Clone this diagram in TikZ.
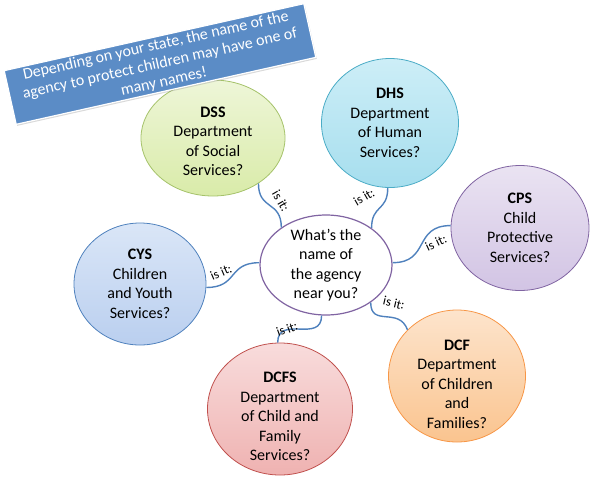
\documentclass[tikz,border=0pt]{standalone}
\usepackage{fontspec}
\setmainfont{Carlito}
\usepackage{xcolor}
\usepackage{tikz}
\usetikzlibrary{shapes,positioning,calc,shadows}

\definecolor{linkblue}{HTML}{4F81BD}
\definecolor{bannerblue}{HTML}{5B8CC6}
\definecolor{hubline}{HTML}{8064A2}
\definecolor{dssline}{HTML}{A5C26A}
\definecolor{dsstop}{HTML}{EEF6D8}
\definecolor{dssbot}{HTML}{D9EBA9}
\definecolor{dhsline}{HTML}{4BACC6}
\definecolor{dhstop}{HTML}{CDEEF7}
\definecolor{dhsbot}{HTML}{A6DEEE}
\definecolor{cpsline}{HTML}{8064A2}
\definecolor{cpstop}{HTML}{EAE3F2}
\definecolor{cpsbot}{HTML}{D2C4E4}
\definecolor{cysline}{HTML}{4F81BD}
\definecolor{cystop}{HTML}{DAE6F7}
\definecolor{cysbot}{HTML}{BACFEF}
\definecolor{dcfsline}{HTML}{C0504D}
\definecolor{dcfstop}{HTML}{F8DCDC}
\definecolor{dcfsbot}{HTML}{EFB2B1}
\definecolor{dcfline}{HTML}{F79646}
\definecolor{dcftop}{HTML}{FDE4CC}
\definecolor{dcfbot}{HTML}{FAC48F}

\newcommand{\pad}[1]{\rule{0pt}{#1}}

\tikzset{
  agency/.style={ellipse, draw, line width=0.8pt, inner sep=-6pt, align=center,
    font=\fontsize{16}{19.5}\selectfont},
  link/.style={draw=linkblue, line width=1.4pt, looseness=1.4},
  isit/.style={inner sep=0pt, font=\fontsize{13}{15}\selectfont},
  banner/.style={fill=bannerblue, draw=white, line width=1.2pt, text=white, align=center,
    inner sep=0pt, minimum width=307pt, minimum height=55pt,
    font=\fontsize{16}{18.5}\selectfont,
    drop shadow={shadow xshift=1pt, shadow yshift=-1.5pt, opacity=0.3}},
}

\begin{document}
\begin{tikzpicture}[x=1pt,y=-1pt]
    \useasboundingbox (0,0) rectangle (596,485);

    % Question in the middle
    \node[agency, draw=hubline, line width=1.2pt, fill=white, minimum width=132pt, minimum height=100pt] (hub) at (326,265) {What’s the\\name of\\the agency\\near you?};

    % Agencies
    \node[agency, draw=dssline, top color=dsstop, bottom color=dssbot, minimum width=144pt, minimum height=116pt] (dss) at (213,138) {\pad{17pt}\textbf{DSS}\\Department\\of Social\\Services?};
    \node[agency, draw=dhsline, top color=dhstop, bottom color=dhsbot, minimum width=137pt, minimum height=129pt] (dhs) at (390,123) {\textbf{DHS}\\Department\\of Human\\Services?};
    \node[agency, draw=cpsline, top color=cpstop, bottom color=cpsbot, minimum width=138pt, minimum height=125pt] (cps) at (520,228) {\textbf{CPS}\\Child\\Protective\\Services?};
    \node[agency, draw=cysline, top color=cystop, bottom color=cysbot, minimum width=132pt, minimum height=122pt] (cys) at (140,284) {\textbf{CYS}\\Children\\and Youth\\Services?};
    \node[agency, draw=dcfsline, top color=dcfstop, bottom color=dcfsbot, minimum width=145pt, minimum height=132pt] (dcfs) at (280,409) {\pad{26pt}\textbf{DCFS}\\Department\\of Child and\\Family\\Services?};
    \node[agency, draw=dcfline, top color=dcftop, bottom color=dcfbot, minimum width=137pt, minimum height=132pt] (dcf) at (457,376) {\pad{27pt}\textbf{DCF}\\Department\\of Children\\and\\Families?};

    % Links
    \draw[link] (hub.140) to[out=90, in=-90] (dss.-45);
    \draw[link] (hub.39) to[out=90, in=-90] (dhs.268);
    \draw[link] (hub.2) to[out=0, in=180] (cps.178);
    \draw[link] (hub.178) to[out=180, in=0] (cys.-3);
    \draw[link] (hub.265) to[out=-90, in=90] (dcfs.92);
    \draw[link] (hub.320) to[out=-90, in=110] (dcf.137);

    \node[isit, rotate=-60] (q1) at (281,201) {is it:};
    \node[isit, rotate=30] (q2) at (364,197) {is it:};
    \node[isit, rotate=25] (q3) at (436,243) {is it:};
    \node[isit, rotate=23] (q4) at (221,272) {is it:};
    \node[isit, rotate=20] (q5) at (287,329) {is it:};
    \node[isit, rotate=-13] (q6) at (394,303) {is it:};

    % Note
    \node[banner, rotate=12.6] (note) at (160,64) {Depending on your state, the name of the\\agency to protect children may have one of\\many names!};
\end{tikzpicture}
\end{document}
